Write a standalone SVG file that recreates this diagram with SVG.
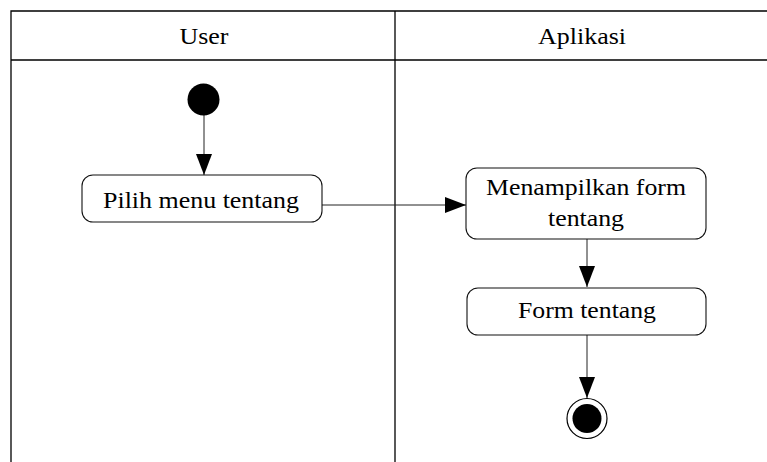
<svg xmlns="http://www.w3.org/2000/svg" width="767" height="462" viewBox="0 0 767 462">
  <defs>
    <marker id="arrow" viewBox="0 0 21 16" refX="21" refY="8" markerWidth="21" markerHeight="16" markerUnits="userSpaceOnUse" orient="auto">
      <path d="M0,0 L21,8 L0,16 Z" fill="#000"/>
    </marker>
    <style>
      .lane { fill: none; stroke: #000; stroke-width: 1.3; }
      .act { fill: #fff; stroke: #111; stroke-width: 1.1; }
      .txt { font-family: 'Liberation Serif', 'Times New Roman', serif; font-size: 24px; fill: #000; text-anchor: middle; }
      .flow { fill: none; stroke: #222; stroke-width: 1; marker-end: url(#arrow); }
    </style>
  </defs>
  <rect width="767" height="462" fill="#fff"/>

  <!-- swimlane frame: two partitions with a header row -->
  <g id="lanes">
    <path class="lane" d="M11,462 V11 H767 M11,60 H767 M395,11 V462"/>
    <text class="txt" x="204" y="44" textLength="49" lengthAdjust="spacingAndGlyphs">User</text>
    <text class="txt" x="582" y="44" textLength="88" lengthAdjust="spacingAndGlyphs">Aplikasi</text>
  </g>

  <!-- transitions -->
  <g id="connectors">
    <line class="flow" x1="204" y1="115" x2="204" y2="175"/>
    <line class="flow" x1="322" y1="205" x2="466" y2="205"/>
    <line class="flow" x1="587" y1="239" x2="587" y2="287"/>
    <line class="flow" x1="587" y1="335" x2="587" y2="398"/>
  </g>

  <g id="start">
    <circle cx="203.5" cy="99.5" r="16" fill="#000"/>
  </g>

  <g id="pilih-menu">
    <rect class="act" x="82" y="175" width="240" height="47" rx="11"/>
    <text class="txt" x="201" y="208" textLength="196" lengthAdjust="spacingAndGlyphs">Pilih menu tentang</text>
  </g>

  <g id="menampilkan-form">
    <rect class="act" x="466" y="168" width="240" height="71" rx="11"/>
    <text class="txt" x="586" y="195" textLength="200" lengthAdjust="spacingAndGlyphs">Menampilkan form</text>
    <text class="txt" x="586" y="226" textLength="76" lengthAdjust="spacingAndGlyphs">tentang</text>
  </g>

  <g id="form-tentang">
    <rect class="act" x="467" y="288" width="239" height="47" rx="11"/>
    <text class="txt" x="587" y="318" textLength="138" lengthAdjust="spacingAndGlyphs">Form tentang</text>
  </g>

  <g id="end">
    <circle cx="587" cy="418.5" r="20" fill="#fff" stroke="#000" stroke-width="1.2"/>
    <circle cx="587" cy="418.5" r="14.5" fill="#000"/>
  </g>
</svg>
